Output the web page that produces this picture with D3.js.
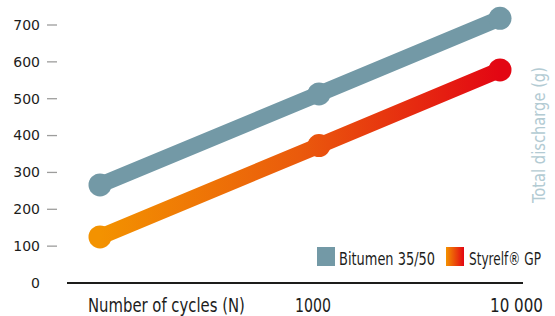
<!DOCTYPE html>
<html>
<head>
<meta charset="utf-8">
<script src="https://cdn.jsdelivr.net/npm/d3@7"></script>
<style>
  body { margin: 0; background: #fff; }
  text { font-family: "DejaVu Sans", sans-serif; font-stretch: condensed; }
</style>
</head>
<body>
<div id="chart"></div>
<script>
// data
var cycles = ["100", "1000", "10 000"];
var cycleLabels = ["Number of cycles (N)", "1000", "10 000"];
var bitumen = [266, 513, 718];
var styrelf = [125, 373, 578];
var yTicks = [0, 100, 200, 300, 400, 500, 600, 700];
var seriesNames = ["Bitumen 35/50", "Styrelf\u00ae GP"];

var W = 555, H = 316;

var svg = d3.select("#chart")
  .append("svg")
    .attr("width", W)
    .attr("height", H);

// squeeze a text horizontally to a given width (the original uses a condensed face)
function squeeze(sel, x0, y0, w, rot) {
  sel.each(function() {
    var natural = this.getComputedTextLength();
    var k = w / natural;
    d3.select(this)
      .attr("x", 0).attr("y", 0)
      .attr("transform", "translate(" + x0 + "," + y0 + ")" + (rot ? "rotate(-90)" : "") + "scale(" + k + ",1)");
  });
}

// x is not evenly spaced in the original, so an ordinal scale with explicit range
var x = d3.scaleOrdinal()
  .domain(cycles)
  .range([100, 319, 500]);

var y = d3.scaleLinear()
  .domain([0, 700])
  .range([283, 25]);

// gradient for Styrelf
var defs = svg.append("defs");
var grad = defs.append("linearGradient")
  .attr("id", "styrelfGrad")
  .attr("gradientUnits", "userSpaceOnUse")
  .attr("x1", 100).attr("y1", 0)
  .attr("x2", 500).attr("y2", 0);
grad.append("stop").attr("offset", "0%").attr("stop-color", "#f39200");
grad.append("stop").attr("offset", "50%").attr("stop-color", "#ea5a0c");
grad.append("stop").attr("offset", "100%").attr("stop-color", "#e30613");

var legGrad = defs.append("linearGradient")
  .attr("id", "legendGrad")
  .attr("x1", 0).attr("y1", 0)
  .attr("x2", 1).attr("y2", 0);
legGrad.append("stop").attr("offset", "0%").attr("stop-color", "#f39200");
legGrad.append("stop").attr("offset", "100%").attr("stop-color", "#e30613");

// y axis: labels + short ticks
var yAxis = svg.append("g");
yAxis.selectAll("line")
  .data(yTicks.filter(function(d) { return d > 0; }))
  .enter()
  .append("line")
    .attr("x1", 47).attr("x2", 57)
    .attr("y1", function(d) { return y(d); })
    .attr("y2", function(d) { return y(d); })
    .attr("stroke", "#9d9d9c")
    .attr("stroke-width", 1.3);
yAxis.selectAll("text")
  .data(yTicks)
  .enter()
  .append("text")
    .attr("x", 40)
    .attr("y", function(d) { return y(d); })
    .attr("dy", "0.35em")
    .attr("text-anchor", "end")
    .attr("fill", "#1d1d1b")
    .style("font-size", "14px")
    .style("font-stretch", "normal")
    .text(function(d) { return d; });

// baseline
svg.append("line")
  .attr("x1", 67).attr("x2", 523)
  .attr("y1", y(0)).attr("y2", y(0))
  .attr("stroke", "#1d1d1b")
  .attr("stroke-width", 2);

// x labels (left edges and widths)
var xLabX = [88, 295, 490];
var xLabW = [157, 36, 53];
svg.selectAll(".xlab")
  .data(cycleLabels)
  .enter()
  .append("text")
    .attr("class", "xlab")
    .attr("font-size", 19.5)
    .attr("fill", "#1d1d1b")
    .text(function(d) { return d; })
    .each(function(d, i) { squeeze(d3.select(this), xLabX[i], 312, xLabW[i]); });

// y title
var yTitle = svg.append("text")
  .attr("text-anchor", "middle")
  .attr("font-size", 17)
  .attr("fill", "#b3cbd3")
  .text("Total discharge (g)");
squeeze(yTitle, 545, 135, 136, true);

// lines
var line = d3.line()
  .x(function(d, i) { return x(cycles[i]); })
  .y(function(d) { return y(d); });

svg.append("path")
  .datum(bitumen)
  .attr("d", line)
  .attr("fill", "none")
  .attr("stroke", "#7399a6")
  .attr("stroke-width", 16);

svg.selectAll(".ptB")
  .data(bitumen)
  .enter()
  .append("circle")
    .attr("class", "ptB")
    .attr("cx", function(d, i) { return x(cycles[i]); })
    .attr("cy", function(d) { return y(d); })
    .attr("r", 11.5)
    .attr("fill", "#7399a6");

svg.append("path")
  .datum(styrelf)
  .attr("d", line)
  .attr("fill", "none")
  .attr("stroke", "url(#styrelfGrad)")
  .attr("stroke-width", 16);

svg.selectAll(".ptS")
  .data(styrelf)
  .enter()
  .append("circle")
    .attr("class", "ptS")
    .attr("cx", function(d, i) { return x(cycles[i]); })
    .attr("cy", function(d) { return y(d); })
    .attr("r", 11.5)
    .attr("fill", "url(#styrelfGrad)");

// legend
var legend = svg.append("g");
legend.append("rect")
  .attr("x", 317).attr("y", 247)
  .attr("width", 18).attr("height", 19)
  .attr("fill", "#7399a6");
legend.append("text")
  .attr("font-size", 17)
  .attr("fill", "#1d1d1b")
  .text(seriesNames[0])
  .call(squeeze, 339, 265, 96);
legend.append("rect")
  .attr("x", 446).attr("y", 247)
  .attr("width", 18).attr("height", 19)
  .attr("fill", "url(#legendGrad)");
legend.append("text")
  .attr("font-size", 17)
  .attr("fill", "#1d1d1b")
  .text(seriesNames[1])
  .call(squeeze, 469, 265, 72);
</script>
</body>
</html>
